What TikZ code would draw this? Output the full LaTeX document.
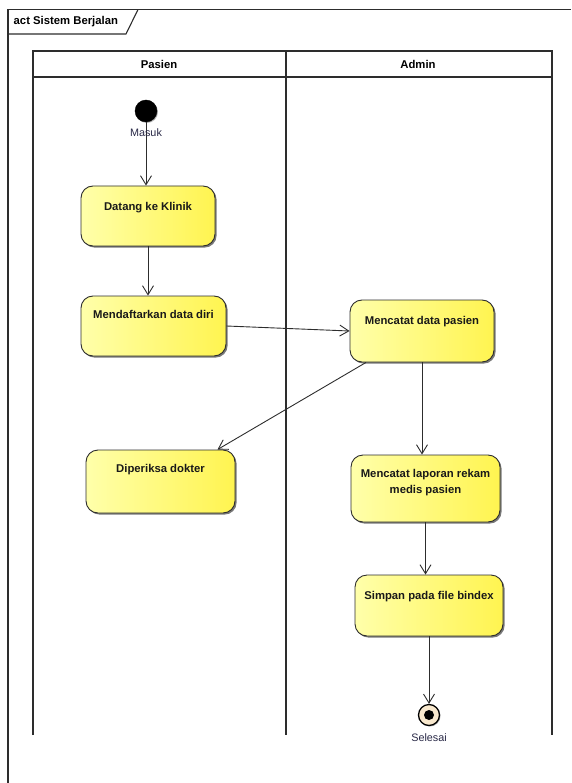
\documentclass[tikz,border=0pt]{standalone}
\usepackage{fontspec}
\setmainfont{Liberation Sans}
\usetikzlibrary{arrows.meta,shadows,calc}
\definecolor{yelL}{RGB}{255,255,170}
\definecolor{yelR}{RGB}{255,244,80}
\definecolor{ink}{RGB}{45,45,45}
\definecolor{cream}{RGB}{248,232,205}
\definecolor{lbl}{RGB}{40,40,70}
\begin{document}
\begin{tikzpicture}[x=1pt,y=-1pt,
  actbox/.style={draw=ink, line width=0.9pt, rounded corners=12pt,
    left color=yelL, right color=yelR, inner sep=0pt,
    drop shadow={shadow xshift=1.6pt, shadow yshift=-1.6pt, fill=black!75, opacity=0.7}},
  acttext/.style={anchor=north, inner sep=0pt, font=\fontsize{11.3}{16}\selectfont\bfseries, text=black!90, align=center},
  lanetext/.style={inner sep=0pt, font=\fontsize{11.3}{13}\selectfont\bfseries},
  smalltext/.style={inner sep=0pt, font=\fontsize{10.8}{12}\selectfont, text=lbl},
  frameline/.style={draw=ink, line width=1.1pt},
  arr/.style={draw=ink, line width=0.9pt, -{Straight Barb[length=9pt,width=11pt,line width=0.9pt]}}
]
\useasboundingbox (0,0) rectangle (571,783);

% outer frame
\draw[frameline] (8,783) -- (8,9.5) -- (571,9.5);
\draw[frameline] (8,34) -- (126,34) -- (138,9.5);
\node[lanetext, anchor=west] (title) at (13.5,21.5) {act Sistem Berjalan};

% swimlanes
\draw[frameline] (33,735) -- (33,51) -- (552,51) -- (552,735);
\draw[frameline] (33,77) -- (552,77);
\draw[frameline] (286,51) -- (286,735);
\node[lanetext] (pasien) at (159,64) {Pasien};
\node[lanetext] (admin) at (418,64) {Admin};

% initial node
\node[circle, fill=black, draw=black, minimum size=22pt, inner sep=0pt,
  drop shadow={shadow xshift=1pt, shadow yshift=-1pt, fill=black!60, opacity=0.5}] (init) at (146,111) {};

% activity boxes
\node[actbox, minimum width=134pt, minimum height=60pt] (datang) at (148,216) {};
\node[actbox, minimum width=145pt, minimum height=60pt] (daftar) at (153.5,326) {};
\node[actbox, minimum width=144pt, minimum height=62pt] (catat) at (422,331) {};
\node[actbox, minimum width=149pt, minimum height=63pt] (periksa) at (160.5,481.5) {};
\node[actbox, minimum width=149pt, minimum height=67pt] (laporan) at (425.5,488.5) {};
\node[actbox, minimum width=148pt, minimum height=61pt] (simpan) at (429,605.5) {};

\node[acttext] (datangT) at ([yshift=-16.5pt]datang.north) {Datang ke Klinik};
\node[acttext] (daftarT) at ([yshift=-15pt]daftar.north) {Mendaftarkan data diri};
\node[acttext] (catatT) at ([yshift=-16.5pt]catat.north) {Mencatat data pasien};
\node[acttext] (periksaT) at ([yshift=-15pt]periksa.north) {Diperiksa dokter};
\node[acttext] (laporanT) at ([yshift=-15pt]laporan.north) {Mencatat laporan rekam\\medis pasien};
\node[acttext] (simpanT) at ([yshift=-16.5pt]simpan.north) {Simpan pada file bindex};

% final node
\node[circle, draw=black, line width=1.3pt, fill=cream, minimum size=21pt, inner sep=0pt,
  drop shadow={shadow xshift=1pt, shadow yshift=-1pt, fill=black!60, opacity=0.5}] (final) at (429,715) {};
\node[circle, fill=black, minimum size=10pt, inner sep=0pt] (finalIn) at (final.center) {};

% connectors
\draw[arr] (init.south) -- (init.south |- datang.north);
\draw[arr] (datang.south) -- (datang.south |- daftar.north);
\draw[arr] (daftar.east) -- (catat.west);
\draw[arr] ([xshift=-56pt]catat.south) -- ([xshift=57pt]periksa.north);
\draw[arr] (catat.south) -- (catat.south |- laporan.north);
\draw[arr] (laporan.south) -- (laporan.south |- simpan.north);
\draw[arr] (simpan.south) -- (final.north);

% labels
\node[smalltext] (masuk) at (146,132.5) {Masuk};
\node[smalltext] (selesai) at (429,737.5) {Selesai};
\end{tikzpicture}
\end{document}
